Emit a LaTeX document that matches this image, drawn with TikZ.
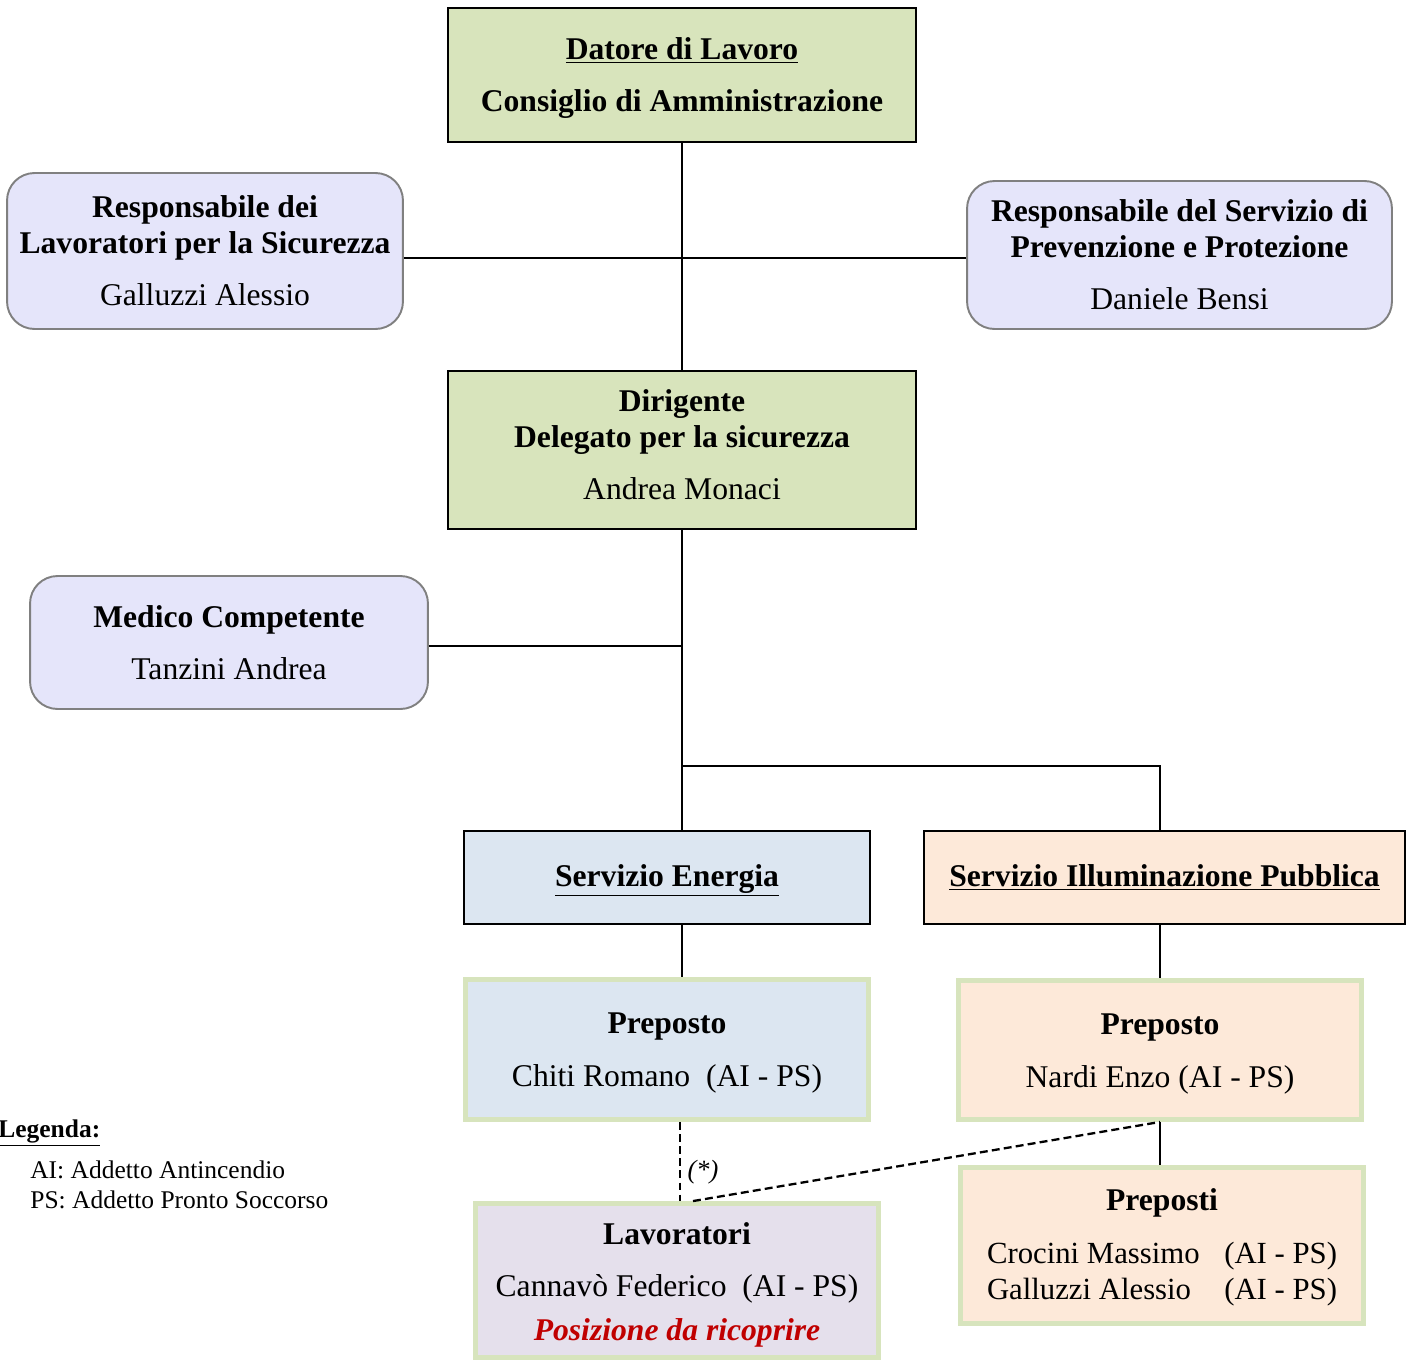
\documentclass[tikz,border=0pt]{standalone}
\usepackage{fontspec}
\setmainfont{Liberation Serif}
\usepackage{xcolor}
\usetikzlibrary{calc}

\definecolor{dlgreen}{HTML}{D8E4BC}
\definecolor{rslav}{HTML}{E5E5FA}
\definecolor{rsgray}{HTML}{808080}
\definecolor{enblue}{HTML}{DCE6F1}
\definecolor{ilpeach}{HTML}{FDE9D9}
\definecolor{lvlilac}{HTML}{E5E0EC}
\definecolor{roleborder}{HTML}{D7E4BD}
\definecolor{vacantred}{HTML}{C00000}

% strut to push a box's text a little lower
\newcommand{\tstrut}[1]{\rule{0pt}{#1}}

\tikzset{
  base/.style={align=center, inner sep=0pt, font=\fontsize{18}{20.5}\selectfont},
  greenbox/.style={base, draw=black, line width=1.2pt, fill=dlgreen},
  roundbox/.style={base, draw=rsgray, line width=1.1pt, fill=rslav, rounded corners=0.55cm},
  servbox/.style={base, draw=black, line width=0.8pt},
  rolebox/.style={base, draw=roleborder, line width=2.8pt},
  link/.style={line width=0.9pt},
  dashlink/.style={line width=1.3pt, dash pattern=on 4.5pt off 2.4pt},
}

\begin{document}
\begin{tikzpicture}[x=0.02cm, y=-0.02cm]
  \useasboundingbox (0,0) rectangle (1410,1362);

  % top level
  \node[greenbox, minimum width=9.36cm, minimum height=2.68cm] (datore) at (682,75)
    {\tstrut{16pt}\textbf{\underline{Datore di Lavoro}}\\[9pt]\textbf{Consiglio di Amministrazione}};

  % safety roles beside the employer
  \node[roundbox, minimum width=7.92cm, minimum height=3.12cm] (rls) at (205,251)
    {\textbf{Responsabile dei}\\\textbf{Lavoratori per la Sicurezza}\\[9pt]Galluzzi Alessio};
  \node[roundbox, minimum width=8.5cm, minimum height=2.96cm] (rspp) at (1179.5,255)
    {\textbf{Responsabile del Servizio di}\\\textbf{Prevenzione e Protezione}\\[9pt]Daniele Bensi};

  % delegate
  \node[greenbox, minimum width=9.36cm, minimum height=3.16cm] (dirigente) at (682,450)
    {\textbf{Dirigente}\\\textbf{Delegato per la sicurezza}\\[9pt]Andrea Monaci\\[-14pt]\mbox{}};

  \node[roundbox, minimum width=7.96cm, minimum height=2.66cm] (medico) at (229,642.5)
    {\textbf{Medico Competente}\\[9pt]Tanzini Andrea};

  % services
  \node[servbox, fill=enblue, minimum width=8.12cm, minimum height=1.86cm] (energia) at (667,877.5)
    {\tstrut{16pt}\textbf{\underline{Servizio Energia}}};
  \node[servbox, fill=ilpeach, minimum width=9.62cm, minimum height=1.86cm] (illum) at (1164.5,877.5)
    {\textbf{\underline{Servizio Illuminazione Pubblica}}};

  % supervisors and workers
  \node[rolebox, fill=enblue, minimum width=8.06cm, minimum height=2.8cm] (prepE) at (667,1049.5)
    {\tstrut{16pt}\textbf{Preposto}\\[9.5pt]Chiti Romano\ \ (AI - PS)};
  \node[rolebox, fill=ilpeach, minimum width=8.06cm, minimum height=2.78cm] (prepI) at (1160,1050)
    {\tstrut{16pt}\textbf{Preposto}\\[9.5pt]Nardi Enzo (AI - PS)};
  \node[rolebox, fill=ilpeach, minimum width=8.06cm, minimum height=3.12cm] (prepsI) at (1162,1245.5)
    {\tstrut{17pt}\textbf{Preposti}\\[10.5pt]{\fontsize{17.5}{20.5}\selectfont
     \begin{tabular}{@{}l@{\hspace{14pt}}l@{}}
      Crocini Massimo & (AI - PS)\\
      Galluzzi Alessio & (AI - PS)
    \end{tabular}}};
  \node[rolebox, fill=lvlilac, minimum width=8.06cm, minimum height=3.08cm] (lavoratori) at (677,1280.5)
    {\tstrut{17.5pt}\textbf{Lavoratori}\\[9pt]Cannavò Federico\ \ (AI - PS)\\[4.5pt]
     \textcolor{vacantred}{\textbf{\textit{Posizione da ricoprire}}}};

  % legend
  \node[anchor=west, inner sep=0pt, font=\fontsize{14.5}{17.6}\selectfont] (legenda) at (-2,1133)
    {\textbf{\underline{Legenda:}}};
  \node[anchor=north west, align=left, inner sep=0pt, font=\fontsize{14.5}{17.6}\selectfont] (legendaTxt) at (30,1160)
    {AI: Addetto Antincendio\\PS: Addetto Pronto Soccorso};

  % connectors
  \coordinate (hLink) at (683,258);
  \coordinate (medLink) at (683,646);
  \coordinate (split) at (683,766);
  \draw[link] (datore.south) -- (dirigente.north);
  \draw[link] (rls.east |- hLink) -- (rspp.west |- hLink);
  \draw[link] (medico.east |- medLink) -- (medLink);
  \draw[link] (dirigente.south) -- (dirigente.south |- energia.north);
  \draw[link] (split) -- (split -| prepI.north) -- (prepI.north |- illum.north);
  \draw[link] (dirigente.south |- energia.south) -- (dirigente.south |- prepE.north);
  \draw[link] (prepI.north |- illum.south) -- (prepI.north);
  \draw[link] (prepI.south) -- (prepsI.north -| prepI.south);
  \draw[dashlink] ([xshift=0.06cm]lavoratori.north |- prepE.south) -- ([xshift=0.06cm]lavoratori.north);
  \draw[dashlink] ([xshift=0.32cm]lavoratori.north) -- (prepI.south);
  \node[font=\fontsize{15}{17}\selectfont, inner sep=0pt] (nota) at (703,1172) {\textit{(*)}};
\end{tikzpicture}
\end{document}
